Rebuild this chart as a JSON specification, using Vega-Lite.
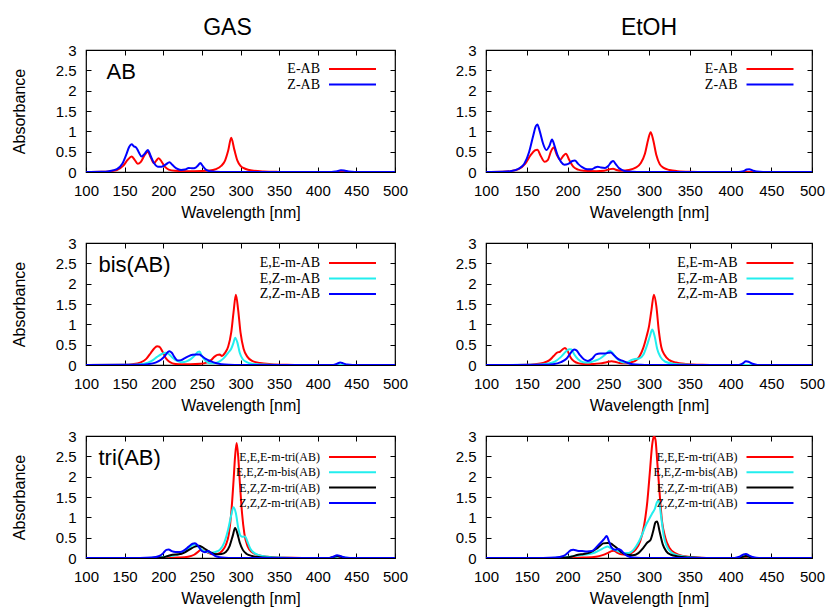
{
"$schema": "https://vega.github.io/schema/vega-lite/v6.json",
"background": "white",
"padding": {"left": 10, "top": 16, "right": 0, "bottom": 0},
"columns": 2,
"spacing": {"row": 71, "column": 91},
"bounds": "flush",
"align": "each",
"resolve": {"scale": {"color": "independent"}, "legend": {"color": "independent"}},
"datasets": {
"p1": [
{"series":"E-AB","nm":100,"abs":0},{"series":"E-AB","nm":120,"abs":0.005},{"series":"E-AB","nm":130,"abs":0.015},{"series":"E-AB","nm":140,"abs":0.05},{"series":"E-AB","nm":148,"abs":0.15},{"series":"E-AB","nm":154,"abs":0.3},{"series":"E-AB","nm":159,"abs":0.38},{"series":"E-AB","nm":163,"abs":0.3},{"series":"E-AB","nm":167,"abs":0.2},{"series":"E-AB","nm":171,"abs":0.25},{"series":"E-AB","nm":176,"abs":0.42},{"series":"E-AB","nm":180,"abs":0.5},{"series":"E-AB","nm":184,"abs":0.35},{"series":"E-AB","nm":188,"abs":0.22},{"series":"E-AB","nm":191,"abs":0.28},{"series":"E-AB","nm":194,"abs":0.34},{"series":"E-AB","nm":198,"abs":0.25},{"series":"E-AB","nm":202,"abs":0.13},{"series":"E-AB","nm":207,"abs":0.06},{"series":"E-AB","nm":215,"abs":0.03},{"series":"E-AB","nm":230,"abs":0.02},{"series":"E-AB","nm":250,"abs":0.025},{"series":"E-AB","nm":260,"abs":0.035},{"series":"E-AB","nm":268,"abs":0.07},{"series":"E-AB","nm":275,"abs":0.15},{"series":"E-AB","nm":280,"abs":0.28},{"series":"E-AB","nm":284,"abs":0.52},{"series":"E-AB","nm":288,"abs":0.84},{"series":"E-AB","nm":292,"abs":0.55},{"series":"E-AB","nm":296,"abs":0.28},{"series":"E-AB","nm":300,"abs":0.15},{"series":"E-AB","nm":306,"abs":0.08},{"series":"E-AB","nm":315,"abs":0.035},{"series":"E-AB","nm":330,"abs":0.012},{"series":"E-AB","nm":350,"abs":0.003},{"series":"E-AB","nm":370,"abs":0},{"series":"E-AB","nm":500,"abs":0},
{"series":"Z-AB","nm":100,"abs":0},{"series":"Z-AB","nm":120,"abs":0.005},{"series":"Z-AB","nm":130,"abs":0.02},{"series":"Z-AB","nm":140,"abs":0.07},{"series":"Z-AB","nm":147,"abs":0.2},{"series":"Z-AB","nm":152,"abs":0.42},{"series":"Z-AB","nm":156,"abs":0.62},{"series":"Z-AB","nm":159,"abs":0.68},{"series":"Z-AB","nm":162,"abs":0.63},{"series":"Z-AB","nm":165,"abs":0.6},{"series":"Z-AB","nm":168,"abs":0.5},{"series":"Z-AB","nm":172,"abs":0.38},{"series":"Z-AB","nm":176,"abs":0.45},{"series":"Z-AB","nm":180,"abs":0.54},{"series":"Z-AB","nm":184,"abs":0.38},{"series":"Z-AB","nm":188,"abs":0.22},{"series":"Z-AB","nm":193,"abs":0.13},{"series":"Z-AB","nm":198,"abs":0.13},{"series":"Z-AB","nm":203,"abs":0.18},{"series":"Z-AB","nm":208,"abs":0.24},{"series":"Z-AB","nm":212,"abs":0.17},{"series":"Z-AB","nm":217,"abs":0.09},{"series":"Z-AB","nm":223,"abs":0.05},{"series":"Z-AB","nm":228,"abs":0.06},{"series":"Z-AB","nm":233,"abs":0.1},{"series":"Z-AB","nm":238,"abs":0.09},{"series":"Z-AB","nm":242,"abs":0.11},{"series":"Z-AB","nm":245,"abs":0.16},{"series":"Z-AB","nm":248,"abs":0.22},{"series":"Z-AB","nm":251,"abs":0.15},{"series":"Z-AB","nm":255,"abs":0.06},{"series":"Z-AB","nm":260,"abs":0.02},{"series":"Z-AB","nm":268,"abs":0.005},{"series":"Z-AB","nm":280,"abs":0},{"series":"Z-AB","nm":418,"abs":0},{"series":"Z-AB","nm":424,"abs":0.015},{"series":"Z-AB","nm":430,"abs":0.04},{"series":"Z-AB","nm":434,"abs":0.035},{"series":"Z-AB","nm":440,"abs":0.01},{"series":"Z-AB","nm":448,"abs":0},{"series":"Z-AB","nm":500,"abs":0}
],
"p2": [
{"series":"E-AB","nm":100,"abs":0},{"series":"E-AB","nm":120,"abs":0.005},{"series":"E-AB","nm":130,"abs":0.02},{"series":"E-AB","nm":140,"abs":0.07},{"series":"E-AB","nm":148,"abs":0.2},{"series":"E-AB","nm":155,"abs":0.42},{"series":"E-AB","nm":160,"abs":0.53},{"series":"E-AB","nm":163,"abs":0.55},{"series":"E-AB","nm":167,"abs":0.4},{"series":"E-AB","nm":172,"abs":0.25},{"series":"E-AB","nm":176,"abs":0.3},{"series":"E-AB","nm":180,"abs":0.52},{"series":"E-AB","nm":183,"abs":0.6},{"series":"E-AB","nm":187,"abs":0.42},{"series":"E-AB","nm":191,"abs":0.3},{"series":"E-AB","nm":195,"abs":0.4},{"series":"E-AB","nm":198,"abs":0.45},{"series":"E-AB","nm":202,"abs":0.3},{"series":"E-AB","nm":207,"abs":0.13},{"series":"E-AB","nm":213,"abs":0.06},{"series":"E-AB","nm":220,"abs":0.03},{"series":"E-AB","nm":235,"abs":0.02},{"series":"E-AB","nm":245,"abs":0.03},{"series":"E-AB","nm":252,"abs":0.07},{"series":"E-AB","nm":256,"abs":0.08},{"series":"E-AB","nm":260,"abs":0.05},{"series":"E-AB","nm":267,"abs":0.03},{"series":"E-AB","nm":275,"abs":0.05},{"series":"E-AB","nm":283,"abs":0.1},{"series":"E-AB","nm":290,"abs":0.22},{"series":"E-AB","nm":295,"abs":0.45},{"series":"E-AB","nm":299,"abs":0.8},{"series":"E-AB","nm":302,"abs":0.98},{"series":"E-AB","nm":305,"abs":0.8},{"series":"E-AB","nm":309,"abs":0.42},{"series":"E-AB","nm":313,"abs":0.2},{"series":"E-AB","nm":318,"abs":0.1},{"series":"E-AB","nm":325,"abs":0.05},{"series":"E-AB","nm":335,"abs":0.02},{"series":"E-AB","nm":350,"abs":0.005},{"series":"E-AB","nm":370,"abs":0},{"series":"E-AB","nm":500,"abs":0},
{"series":"Z-AB","nm":100,"abs":0},{"series":"Z-AB","nm":120,"abs":0.005},{"series":"Z-AB","nm":130,"abs":0.02},{"series":"Z-AB","nm":140,"abs":0.08},{"series":"Z-AB","nm":147,"abs":0.2},{"series":"Z-AB","nm":153,"abs":0.5},{"series":"Z-AB","nm":158,"abs":0.9},{"series":"Z-AB","nm":161,"abs":1.12},{"series":"Z-AB","nm":163,"abs":1.17},{"series":"Z-AB","nm":166,"abs":1.0},{"series":"Z-AB","nm":170,"abs":0.7},{"series":"Z-AB","nm":174,"abs":0.54},{"series":"Z-AB","nm":178,"abs":0.65},{"series":"Z-AB","nm":181,"abs":0.8},{"series":"Z-AB","nm":184,"abs":0.65},{"series":"Z-AB","nm":188,"abs":0.4},{"series":"Z-AB","nm":192,"abs":0.25},{"series":"Z-AB","nm":196,"abs":0.18},{"series":"Z-AB","nm":201,"abs":0.2},{"series":"Z-AB","nm":206,"abs":0.27},{"series":"Z-AB","nm":209,"abs":0.28},{"series":"Z-AB","nm":213,"abs":0.2},{"series":"Z-AB","nm":218,"abs":0.12},{"series":"Z-AB","nm":224,"abs":0.07},{"series":"Z-AB","nm":230,"abs":0.07},{"series":"Z-AB","nm":234,"abs":0.11},{"series":"Z-AB","nm":237,"abs":0.13},{"series":"Z-AB","nm":241,"abs":0.11},{"series":"Z-AB","nm":246,"abs":0.1},{"series":"Z-AB","nm":250,"abs":0.15},{"series":"Z-AB","nm":254,"abs":0.25},{"series":"Z-AB","nm":256,"abs":0.27},{"series":"Z-AB","nm":259,"abs":0.2},{"series":"Z-AB","nm":263,"abs":0.1},{"series":"Z-AB","nm":268,"abs":0.04},{"series":"Z-AB","nm":275,"abs":0.01},{"series":"Z-AB","nm":285,"abs":0},{"series":"Z-AB","nm":410,"abs":0},{"series":"Z-AB","nm":416,"abs":0.02},{"series":"Z-AB","nm":420,"abs":0.06},{"series":"Z-AB","nm":423,"abs":0.07},{"series":"Z-AB","nm":427,"abs":0.04},{"series":"Z-AB","nm":432,"abs":0.01},{"series":"Z-AB","nm":440,"abs":0},{"series":"Z-AB","nm":500,"abs":0}
],
"p3": [
{"series":"E,E-m-AB","nm":100,"abs":0},{"series":"E,E-m-AB","nm":150,"abs":0.005},{"series":"E,E-m-AB","nm":160,"abs":0.02},{"series":"E,E-m-AB","nm":170,"abs":0.06},{"series":"E,E-m-AB","nm":178,"abs":0.15},{"series":"E,E-m-AB","nm":184,"abs":0.3},{"series":"E,E-m-AB","nm":188,"abs":0.4},{"series":"E,E-m-AB","nm":192,"abs":0.46},{"series":"E,E-m-AB","nm":195,"abs":0.45},{"series":"E,E-m-AB","nm":199,"abs":0.33},{"series":"E,E-m-AB","nm":203,"abs":0.18},{"series":"E,E-m-AB","nm":207,"abs":0.09},{"series":"E,E-m-AB","nm":212,"abs":0.04},{"series":"E,E-m-AB","nm":220,"abs":0.02},{"series":"E,E-m-AB","nm":235,"abs":0.02},{"series":"E,E-m-AB","nm":248,"abs":0.03},{"series":"E,E-m-AB","nm":256,"abs":0.06},{"series":"E,E-m-AB","nm":262,"abs":0.12},{"series":"E,E-m-AB","nm":266,"abs":0.2},{"series":"E,E-m-AB","nm":270,"abs":0.25},{"series":"E,E-m-AB","nm":273,"abs":0.26},{"series":"E,E-m-AB","nm":276,"abs":0.22},{"series":"E,E-m-AB","nm":280,"abs":0.3},{"series":"E,E-m-AB","nm":284,"abs":0.45},{"series":"E,E-m-AB","nm":288,"abs":0.8},{"series":"E,E-m-AB","nm":291,"abs":1.3},{"series":"E,E-m-AB","nm":294,"abs":1.73},{"series":"E,E-m-AB","nm":297,"abs":1.35},{"series":"E,E-m-AB","nm":300,"abs":0.8},{"series":"E,E-m-AB","nm":304,"abs":0.4},{"series":"E,E-m-AB","nm":309,"abs":0.2},{"series":"E,E-m-AB","nm":315,"abs":0.1},{"series":"E,E-m-AB","nm":325,"abs":0.05},{"series":"E,E-m-AB","nm":340,"abs":0.02},{"series":"E,E-m-AB","nm":360,"abs":0.005},{"series":"E,E-m-AB","nm":380,"abs":0},{"series":"E,E-m-AB","nm":500,"abs":0},
{"series":"E,Z-m-AB","nm":100,"abs":0},{"series":"E,Z-m-AB","nm":160,"abs":0.005},{"series":"E,Z-m-AB","nm":175,"abs":0.03},{"series":"E,Z-m-AB","nm":185,"abs":0.1},{"series":"E,Z-m-AB","nm":192,"abs":0.2},{"series":"E,Z-m-AB","nm":198,"abs":0.27},{"series":"E,Z-m-AB","nm":203,"abs":0.3},{"series":"E,Z-m-AB","nm":207,"abs":0.27},{"series":"E,Z-m-AB","nm":212,"abs":0.18},{"series":"E,Z-m-AB","nm":218,"abs":0.1},{"series":"E,Z-m-AB","nm":224,"abs":0.07},{"series":"E,Z-m-AB","nm":230,"abs":0.09},{"series":"E,Z-m-AB","nm":236,"abs":0.15},{"series":"E,Z-m-AB","nm":241,"abs":0.24},{"series":"E,Z-m-AB","nm":245,"abs":0.32},{"series":"E,Z-m-AB","nm":247,"abs":0.33},{"series":"E,Z-m-AB","nm":250,"abs":0.22},{"series":"E,Z-m-AB","nm":255,"abs":0.1},{"series":"E,Z-m-AB","nm":262,"abs":0.04},{"series":"E,Z-m-AB","nm":268,"abs":0.05},{"series":"E,Z-m-AB","nm":274,"abs":0.1},{"series":"E,Z-m-AB","nm":279,"abs":0.18},{"series":"E,Z-m-AB","nm":284,"abs":0.3},{"series":"E,Z-m-AB","nm":288,"abs":0.4},{"series":"E,Z-m-AB","nm":291,"abs":0.55},{"series":"E,Z-m-AB","nm":293,"abs":0.67},{"series":"E,Z-m-AB","nm":296,"abs":0.55},{"series":"E,Z-m-AB","nm":299,"abs":0.3},{"series":"E,Z-m-AB","nm":303,"abs":0.14},{"series":"E,Z-m-AB","nm":308,"abs":0.07},{"series":"E,Z-m-AB","nm":315,"abs":0.03},{"series":"E,Z-m-AB","nm":330,"abs":0.01},{"series":"E,Z-m-AB","nm":350,"abs":0},{"series":"E,Z-m-AB","nm":500,"abs":0},
{"series":"Z,Z-m-AB","nm":100,"abs":0},{"series":"Z,Z-m-AB","nm":170,"abs":0.005},{"series":"Z,Z-m-AB","nm":180,"abs":0.02},{"series":"Z,Z-m-AB","nm":190,"abs":0.06},{"series":"Z,Z-m-AB","nm":197,"abs":0.13},{"series":"Z,Z-m-AB","nm":202,"abs":0.22},{"series":"Z,Z-m-AB","nm":206,"abs":0.32},{"series":"Z,Z-m-AB","nm":208,"abs":0.34},{"series":"Z,Z-m-AB","nm":211,"abs":0.3},{"series":"Z,Z-m-AB","nm":215,"abs":0.18},{"series":"Z,Z-m-AB","nm":219,"abs":0.11},{"series":"Z,Z-m-AB","nm":223,"abs":0.12},{"series":"Z,Z-m-AB","nm":228,"abs":0.17},{"series":"Z,Z-m-AB","nm":233,"abs":0.22},{"series":"Z,Z-m-AB","nm":238,"abs":0.25},{"series":"Z,Z-m-AB","nm":243,"abs":0.26},{"series":"Z,Z-m-AB","nm":247,"abs":0.26},{"series":"Z,Z-m-AB","nm":250,"abs":0.22},{"series":"Z,Z-m-AB","nm":255,"abs":0.15},{"series":"Z,Z-m-AB","nm":262,"abs":0.09},{"series":"Z,Z-m-AB","nm":268,"abs":0.05},{"series":"Z,Z-m-AB","nm":275,"abs":0.02},{"series":"Z,Z-m-AB","nm":285,"abs":0.005},{"series":"Z,Z-m-AB","nm":300,"abs":0},{"series":"Z,Z-m-AB","nm":420,"abs":0},{"series":"Z,Z-m-AB","nm":425,"abs":0.03},{"series":"Z,Z-m-AB","nm":429,"abs":0.06},{"series":"Z,Z-m-AB","nm":433,"abs":0.04},{"series":"Z,Z-m-AB","nm":438,"abs":0.01},{"series":"Z,Z-m-AB","nm":445,"abs":0},{"series":"Z,Z-m-AB","nm":500,"abs":0}
],
"p4": [
{"series":"E,E-m-AB","nm":100,"abs":0},{"series":"E,E-m-AB","nm":150,"abs":0.005},{"series":"E,E-m-AB","nm":160,"abs":0.02},{"series":"E,E-m-AB","nm":170,"abs":0.05},{"series":"E,E-m-AB","nm":178,"abs":0.12},{"series":"E,E-m-AB","nm":183,"abs":0.22},{"series":"E,E-m-AB","nm":187,"abs":0.3},{"series":"E,E-m-AB","nm":191,"abs":0.33},{"series":"E,E-m-AB","nm":195,"abs":0.4},{"series":"E,E-m-AB","nm":197,"abs":0.42},{"series":"E,E-m-AB","nm":200,"abs":0.35},{"series":"E,E-m-AB","nm":204,"abs":0.18},{"series":"E,E-m-AB","nm":208,"abs":0.09},{"series":"E,E-m-AB","nm":214,"abs":0.04},{"series":"E,E-m-AB","nm":225,"abs":0.02},{"series":"E,E-m-AB","nm":240,"abs":0.04},{"series":"E,E-m-AB","nm":248,"abs":0.07},{"series":"E,E-m-AB","nm":254,"abs":0.09},{"series":"E,E-m-AB","nm":258,"abs":0.08},{"series":"E,E-m-AB","nm":264,"abs":0.05},{"series":"E,E-m-AB","nm":270,"abs":0.04},{"series":"E,E-m-AB","nm":277,"abs":0.06},{"series":"E,E-m-AB","nm":283,"abs":0.1},{"series":"E,E-m-AB","nm":288,"abs":0.2},{"series":"E,E-m-AB","nm":293,"abs":0.42},{"series":"E,E-m-AB","nm":297,"abs":0.7},{"series":"E,E-m-AB","nm":300,"abs":0.95},{"series":"E,E-m-AB","nm":303,"abs":1.35},{"series":"E,E-m-AB","nm":306,"abs":1.73},{"series":"E,E-m-AB","nm":309,"abs":1.45},{"series":"E,E-m-AB","nm":312,"abs":0.85},{"series":"E,E-m-AB","nm":315,"abs":0.45},{"series":"E,E-m-AB","nm":319,"abs":0.25},{"series":"E,E-m-AB","nm":325,"abs":0.12},{"series":"E,E-m-AB","nm":333,"abs":0.06},{"series":"E,E-m-AB","nm":345,"abs":0.025},{"series":"E,E-m-AB","nm":365,"abs":0.005},{"series":"E,E-m-AB","nm":385,"abs":0},{"series":"E,E-m-AB","nm":500,"abs":0},
{"series":"E,Z-m-AB","nm":100,"abs":0},{"series":"E,Z-m-AB","nm":160,"abs":0.005},{"series":"E,Z-m-AB","nm":175,"abs":0.03},{"series":"E,Z-m-AB","nm":185,"abs":0.09},{"series":"E,Z-m-AB","nm":192,"abs":0.2},{"series":"E,Z-m-AB","nm":198,"abs":0.33},{"series":"E,Z-m-AB","nm":202,"abs":0.39},{"series":"E,Z-m-AB","nm":205,"abs":0.38},{"series":"E,Z-m-AB","nm":208,"abs":0.27},{"series":"E,Z-m-AB","nm":213,"abs":0.14},{"series":"E,Z-m-AB","nm":219,"abs":0.07},{"series":"E,Z-m-AB","nm":226,"abs":0.06},{"series":"E,Z-m-AB","nm":233,"abs":0.1},{"series":"E,Z-m-AB","nm":240,"abs":0.16},{"series":"E,Z-m-AB","nm":246,"abs":0.25},{"series":"E,Z-m-AB","nm":250,"abs":0.33},{"series":"E,Z-m-AB","nm":252,"abs":0.35},{"series":"E,Z-m-AB","nm":255,"abs":0.3},{"series":"E,Z-m-AB","nm":260,"abs":0.17},{"series":"E,Z-m-AB","nm":266,"abs":0.08},{"series":"E,Z-m-AB","nm":272,"abs":0.06},{"series":"E,Z-m-AB","nm":278,"abs":0.12},{"series":"E,Z-m-AB","nm":283,"abs":0.15},{"series":"E,Z-m-AB","nm":288,"abs":0.16},{"series":"E,Z-m-AB","nm":293,"abs":0.25},{"series":"E,Z-m-AB","nm":297,"abs":0.45},{"series":"E,Z-m-AB","nm":301,"abs":0.7},{"series":"E,Z-m-AB","nm":304,"abs":0.87},{"series":"E,Z-m-AB","nm":307,"abs":0.7},{"series":"E,Z-m-AB","nm":310,"abs":0.4},{"series":"E,Z-m-AB","nm":314,"abs":0.2},{"series":"E,Z-m-AB","nm":320,"abs":0.08},{"series":"E,Z-m-AB","nm":330,"abs":0.03},{"series":"E,Z-m-AB","nm":345,"abs":0.01},{"series":"E,Z-m-AB","nm":360,"abs":0},{"series":"E,Z-m-AB","nm":500,"abs":0},
{"series":"Z,Z-m-AB","nm":100,"abs":0},{"series":"Z,Z-m-AB","nm":170,"abs":0.005},{"series":"Z,Z-m-AB","nm":182,"abs":0.02},{"series":"Z,Z-m-AB","nm":192,"abs":0.07},{"series":"Z,Z-m-AB","nm":199,"abs":0.16},{"series":"Z,Z-m-AB","nm":204,"abs":0.3},{"series":"Z,Z-m-AB","nm":208,"abs":0.38},{"series":"Z,Z-m-AB","nm":211,"abs":0.36},{"series":"Z,Z-m-AB","nm":215,"abs":0.25},{"series":"Z,Z-m-AB","nm":220,"abs":0.14},{"series":"Z,Z-m-AB","nm":225,"abs":0.1},{"series":"Z,Z-m-AB","nm":230,"abs":0.15},{"series":"Z,Z-m-AB","nm":235,"abs":0.26},{"series":"Z,Z-m-AB","nm":240,"abs":0.28},{"series":"Z,Z-m-AB","nm":246,"abs":0.28},{"series":"Z,Z-m-AB","nm":250,"abs":0.3},{"series":"Z,Z-m-AB","nm":253,"abs":0.31},{"series":"Z,Z-m-AB","nm":257,"abs":0.24},{"series":"Z,Z-m-AB","nm":262,"abs":0.15},{"series":"Z,Z-m-AB","nm":268,"abs":0.1},{"series":"Z,Z-m-AB","nm":274,"abs":0.05},{"series":"Z,Z-m-AB","nm":280,"abs":0.02},{"series":"Z,Z-m-AB","nm":290,"abs":0.005},{"series":"Z,Z-m-AB","nm":300,"abs":0},{"series":"Z,Z-m-AB","nm":410,"abs":0},{"series":"Z,Z-m-AB","nm":415,"abs":0.04},{"series":"Z,Z-m-AB","nm":419,"abs":0.09},{"series":"Z,Z-m-AB","nm":422,"abs":0.08},{"series":"Z,Z-m-AB","nm":427,"abs":0.03},{"series":"Z,Z-m-AB","nm":433,"abs":0},{"series":"Z,Z-m-AB","nm":500,"abs":0}
],
"p5": [
{"series":"E,E,E-m-tri(AB)","nm":100,"abs":0},{"series":"E,E,E-m-tri(AB)","nm":200,"abs":0},{"series":"E,E,E-m-tri(AB)","nm":220,"abs":0.01},{"series":"E,E,E-m-tri(AB)","nm":232,"abs":0.03},{"series":"E,E,E-m-tri(AB)","nm":240,"abs":0.08},{"series":"E,E,E-m-tri(AB)","nm":245,"abs":0.15},{"series":"E,E,E-m-tri(AB)","nm":249,"abs":0.2},{"series":"E,E,E-m-tri(AB)","nm":253,"abs":0.18},{"series":"E,E,E-m-tri(AB)","nm":258,"abs":0.13},{"series":"E,E,E-m-tri(AB)","nm":264,"abs":0.09},{"series":"E,E,E-m-tri(AB)","nm":270,"abs":0.1},{"series":"E,E,E-m-tri(AB)","nm":276,"abs":0.17},{"series":"E,E,E-m-tri(AB)","nm":281,"abs":0.32},{"series":"E,E,E-m-tri(AB)","nm":285,"abs":0.6},{"series":"E,E,E-m-tri(AB)","nm":288,"abs":1.1},{"series":"E,E,E-m-tri(AB)","nm":291,"abs":1.9},{"series":"E,E,E-m-tri(AB)","nm":293,"abs":2.5},{"series":"E,E,E-m-tri(AB)","nm":295,"abs":2.83},{"series":"E,E,E-m-tri(AB)","nm":297,"abs":2.5},{"series":"E,E,E-m-tri(AB)","nm":299,"abs":1.9},{"series":"E,E,E-m-tri(AB)","nm":302,"abs":1.1},{"series":"E,E,E-m-tri(AB)","nm":305,"abs":0.6},{"series":"E,E,E-m-tri(AB)","nm":309,"abs":0.3},{"series":"E,E,E-m-tri(AB)","nm":315,"abs":0.14},{"series":"E,E,E-m-tri(AB)","nm":323,"abs":0.07},{"series":"E,E,E-m-tri(AB)","nm":335,"abs":0.03},{"series":"E,E,E-m-tri(AB)","nm":355,"abs":0.01},{"series":"E,E,E-m-tri(AB)","nm":380,"abs":0},{"series":"E,E,E-m-tri(AB)","nm":500,"abs":0},
{"series":"E,E,Z-m-bis(AB)","nm":100,"abs":0},{"series":"E,E,Z-m-bis(AB)","nm":180,"abs":0},{"series":"E,E,Z-m-bis(AB)","nm":195,"abs":0.01},{"series":"E,E,Z-m-bis(AB)","nm":205,"abs":0.04},{"series":"E,E,Z-m-bis(AB)","nm":215,"abs":0.07},{"series":"E,E,Z-m-bis(AB)","nm":222,"abs":0.1},{"series":"E,E,Z-m-bis(AB)","nm":228,"abs":0.17},{"series":"E,E,Z-m-bis(AB)","nm":234,"abs":0.26},{"series":"E,E,Z-m-bis(AB)","nm":238,"abs":0.32},{"series":"E,E,Z-m-bis(AB)","nm":241,"abs":0.33},{"series":"E,E,Z-m-bis(AB)","nm":245,"abs":0.28},{"series":"E,E,Z-m-bis(AB)","nm":250,"abs":0.2},{"series":"E,E,Z-m-bis(AB)","nm":256,"abs":0.15},{"series":"E,E,Z-m-bis(AB)","nm":262,"abs":0.13},{"series":"E,E,Z-m-bis(AB)","nm":268,"abs":0.15},{"series":"E,E,Z-m-bis(AB)","nm":274,"abs":0.22},{"series":"E,E,Z-m-bis(AB)","nm":279,"abs":0.38},{"series":"E,E,Z-m-bis(AB)","nm":284,"abs":0.7},{"series":"E,E,Z-m-bis(AB)","nm":288,"abs":1.05},{"series":"E,E,Z-m-bis(AB)","nm":291,"abs":1.25},{"series":"E,E,Z-m-bis(AB)","nm":294,"abs":1.1},{"series":"E,E,Z-m-bis(AB)","nm":297,"abs":0.75},{"series":"E,E,Z-m-bis(AB)","nm":300,"abs":0.55},{"series":"E,E,Z-m-bis(AB)","nm":303,"abs":0.52},{"series":"E,E,Z-m-bis(AB)","nm":306,"abs":0.53},{"series":"E,E,Z-m-bis(AB)","nm":309,"abs":0.4},{"series":"E,E,Z-m-bis(AB)","nm":313,"abs":0.22},{"series":"E,E,Z-m-bis(AB)","nm":318,"abs":0.12},{"series":"E,E,Z-m-bis(AB)","nm":325,"abs":0.06},{"series":"E,E,Z-m-bis(AB)","nm":335,"abs":0.03},{"series":"E,E,Z-m-bis(AB)","nm":350,"abs":0.01},{"series":"E,E,Z-m-bis(AB)","nm":370,"abs":0},{"series":"E,E,Z-m-bis(AB)","nm":420,"abs":0},{"series":"E,E,Z-m-bis(AB)","nm":425,"abs":0.03},{"series":"E,E,Z-m-bis(AB)","nm":428,"abs":0.04},{"series":"E,E,Z-m-bis(AB)","nm":432,"abs":0.02},{"series":"E,E,Z-m-bis(AB)","nm":440,"abs":0},{"series":"E,E,Z-m-bis(AB)","nm":500,"abs":0},
{"series":"E,Z,Z-m-tri(AB)","nm":100,"abs":0},{"series":"E,Z,Z-m-tri(AB)","nm":185,"abs":0},{"series":"E,Z,Z-m-tri(AB)","nm":198,"abs":0.01},{"series":"E,Z,Z-m-tri(AB)","nm":206,"abs":0.05},{"series":"E,Z,Z-m-tri(AB)","nm":212,"abs":0.08},{"series":"E,Z,Z-m-tri(AB)","nm":220,"abs":0.09},{"series":"E,Z,Z-m-tri(AB)","nm":228,"abs":0.14},{"series":"E,Z,Z-m-tri(AB)","nm":235,"abs":0.22},{"series":"E,Z,Z-m-tri(AB)","nm":241,"abs":0.28},{"series":"E,Z,Z-m-tri(AB)","nm":246,"abs":0.3},{"series":"E,Z,Z-m-tri(AB)","nm":251,"abs":0.26},{"series":"E,Z,Z-m-tri(AB)","nm":256,"abs":0.2},{"series":"E,Z,Z-m-tri(AB)","nm":262,"abs":0.13},{"series":"E,Z,Z-m-tri(AB)","nm":268,"abs":0.09},{"series":"E,Z,Z-m-tri(AB)","nm":275,"abs":0.1},{"series":"E,Z,Z-m-tri(AB)","nm":281,"abs":0.15},{"series":"E,Z,Z-m-tri(AB)","nm":286,"abs":0.3},{"series":"E,Z,Z-m-tri(AB)","nm":290,"abs":0.55},{"series":"E,Z,Z-m-tri(AB)","nm":293,"abs":0.74},{"series":"E,Z,Z-m-tri(AB)","nm":296,"abs":0.6},{"series":"E,Z,Z-m-tri(AB)","nm":299,"abs":0.38},{"series":"E,Z,Z-m-tri(AB)","nm":303,"abs":0.2},{"series":"E,Z,Z-m-tri(AB)","nm":308,"abs":0.1},{"series":"E,Z,Z-m-tri(AB)","nm":315,"abs":0.05},{"series":"E,Z,Z-m-tri(AB)","nm":325,"abs":0.02},{"series":"E,Z,Z-m-tri(AB)","nm":340,"abs":0.005},{"series":"E,Z,Z-m-tri(AB)","nm":360,"abs":0},{"series":"E,Z,Z-m-tri(AB)","nm":415,"abs":0},{"series":"E,Z,Z-m-tri(AB)","nm":421,"abs":0.03},{"series":"E,Z,Z-m-tri(AB)","nm":426,"abs":0.05},{"series":"E,Z,Z-m-tri(AB)","nm":430,"abs":0.03},{"series":"E,Z,Z-m-tri(AB)","nm":436,"abs":0},{"series":"E,Z,Z-m-tri(AB)","nm":500,"abs":0},
{"series":"Z,Z,Z-m-tri(AB)","nm":100,"abs":0},{"series":"Z,Z,Z-m-tri(AB)","nm":170,"abs":0},{"series":"Z,Z,Z-m-tri(AB)","nm":185,"abs":0.01},{"series":"Z,Z,Z-m-tri(AB)","nm":195,"abs":0.05},{"series":"Z,Z,Z-m-tri(AB)","nm":200,"abs":0.12},{"series":"Z,Z,Z-m-tri(AB)","nm":204,"abs":0.2},{"series":"Z,Z,Z-m-tri(AB)","nm":207,"abs":0.21},{"series":"Z,Z,Z-m-tri(AB)","nm":211,"abs":0.17},{"series":"Z,Z,Z-m-tri(AB)","nm":216,"abs":0.15},{"series":"Z,Z,Z-m-tri(AB)","nm":222,"abs":0.15},{"series":"Z,Z,Z-m-tri(AB)","nm":228,"abs":0.2},{"series":"Z,Z,Z-m-tri(AB)","nm":233,"abs":0.28},{"series":"Z,Z,Z-m-tri(AB)","nm":238,"abs":0.35},{"series":"Z,Z,Z-m-tri(AB)","nm":241,"abs":0.36},{"series":"Z,Z,Z-m-tri(AB)","nm":245,"abs":0.3},{"series":"Z,Z,Z-m-tri(AB)","nm":250,"abs":0.17},{"series":"Z,Z,Z-m-tri(AB)","nm":254,"abs":0.14},{"series":"Z,Z,Z-m-tri(AB)","nm":258,"abs":0.17},{"series":"Z,Z,Z-m-tri(AB)","nm":262,"abs":0.12},{"series":"Z,Z,Z-m-tri(AB)","nm":267,"abs":0.05},{"series":"Z,Z,Z-m-tri(AB)","nm":273,"abs":0.02},{"series":"Z,Z,Z-m-tri(AB)","nm":280,"abs":0.005},{"series":"Z,Z,Z-m-tri(AB)","nm":290,"abs":0},{"series":"Z,Z,Z-m-tri(AB)","nm":415,"abs":0},{"series":"Z,Z,Z-m-tri(AB)","nm":420,"abs":0.03},{"series":"Z,Z,Z-m-tri(AB)","nm":425,"abs":0.07},{"series":"Z,Z,Z-m-tri(AB)","nm":429,"abs":0.05},{"series":"Z,Z,Z-m-tri(AB)","nm":435,"abs":0.01},{"series":"Z,Z,Z-m-tri(AB)","nm":442,"abs":0},{"series":"Z,Z,Z-m-tri(AB)","nm":500,"abs":0}
],
"p6": [
{"series":"E,E,E-m-tri(AB)","nm":100,"abs":0},{"series":"E,E,E-m-tri(AB)","nm":200,"abs":0},{"series":"E,E,E-m-tri(AB)","nm":220,"abs":0.01},{"series":"E,E,E-m-tri(AB)","nm":235,"abs":0.03},{"series":"E,E,E-m-tri(AB)","nm":243,"abs":0.07},{"series":"E,E,E-m-tri(AB)","nm":249,"abs":0.12},{"series":"E,E,E-m-tri(AB)","nm":254,"abs":0.17},{"series":"E,E,E-m-tri(AB)","nm":257,"abs":0.18},{"series":"E,E,E-m-tri(AB)","nm":261,"abs":0.13},{"series":"E,E,E-m-tri(AB)","nm":266,"abs":0.09},{"series":"E,E,E-m-tri(AB)","nm":272,"abs":0.08},{"series":"E,E,E-m-tri(AB)","nm":278,"abs":0.12},{"series":"E,E,E-m-tri(AB)","nm":284,"abs":0.22},{"series":"E,E,E-m-tri(AB)","nm":289,"abs":0.4},{"series":"E,E,E-m-tri(AB)","nm":294,"abs":0.8},{"series":"E,E,E-m-tri(AB)","nm":298,"abs":1.4},{"series":"E,E,E-m-tri(AB)","nm":301,"abs":2.1},{"series":"E,E,E-m-tri(AB)","nm":304,"abs":2.8},{"series":"E,E,E-m-tri(AB)","nm":306,"abs":3.0},{"series":"E,E,E-m-tri(AB)","nm":308,"abs":2.9},{"series":"E,E,E-m-tri(AB)","nm":310,"abs":2.4},{"series":"E,E,E-m-tri(AB)","nm":313,"abs":1.6},{"series":"E,E,E-m-tri(AB)","nm":316,"abs":0.9},{"series":"E,E,E-m-tri(AB)","nm":320,"abs":0.5},{"series":"E,E,E-m-tri(AB)","nm":325,"abs":0.25},{"series":"E,E,E-m-tri(AB)","nm":332,"abs":0.12},{"series":"E,E,E-m-tri(AB)","nm":342,"abs":0.05},{"series":"E,E,E-m-tri(AB)","nm":360,"abs":0.015},{"series":"E,E,E-m-tri(AB)","nm":380,"abs":0},{"series":"E,E,E-m-tri(AB)","nm":500,"abs":0},
{"series":"E,E,Z-m-bis(AB)","nm":100,"abs":0},{"series":"E,E,Z-m-bis(AB)","nm":180,"abs":0},{"series":"E,E,Z-m-bis(AB)","nm":195,"abs":0.01},{"series":"E,E,Z-m-bis(AB)","nm":205,"abs":0.04},{"series":"E,E,Z-m-bis(AB)","nm":215,"abs":0.07},{"series":"E,E,Z-m-bis(AB)","nm":225,"abs":0.09},{"series":"E,E,Z-m-bis(AB)","nm":233,"abs":0.13},{"series":"E,E,Z-m-bis(AB)","nm":240,"abs":0.2},{"series":"E,E,Z-m-bis(AB)","nm":246,"abs":0.26},{"series":"E,E,Z-m-bis(AB)","nm":249,"abs":0.28},{"series":"E,E,Z-m-bis(AB)","nm":253,"abs":0.24},{"series":"E,E,Z-m-bis(AB)","nm":258,"abs":0.2},{"series":"E,E,Z-m-bis(AB)","nm":263,"abs":0.16},{"series":"E,E,Z-m-bis(AB)","nm":269,"abs":0.12},{"series":"E,E,Z-m-bis(AB)","nm":275,"abs":0.12},{"series":"E,E,Z-m-bis(AB)","nm":281,"abs":0.2},{"series":"E,E,Z-m-bis(AB)","nm":287,"abs":0.38},{"series":"E,E,Z-m-bis(AB)","nm":292,"abs":0.6},{"series":"E,E,Z-m-bis(AB)","nm":296,"abs":0.8},{"series":"E,E,Z-m-bis(AB)","nm":300,"abs":0.95},{"series":"E,E,Z-m-bis(AB)","nm":304,"abs":1.1},{"series":"E,E,Z-m-bis(AB)","nm":307,"abs":1.2},{"series":"E,E,Z-m-bis(AB)","nm":310,"abs":1.38},{"series":"E,E,Z-m-bis(AB)","nm":312,"abs":1.41},{"series":"E,E,Z-m-bis(AB)","nm":315,"abs":1.0},{"series":"E,E,Z-m-bis(AB)","nm":318,"abs":0.55},{"series":"E,E,Z-m-bis(AB)","nm":322,"abs":0.28},{"series":"E,E,Z-m-bis(AB)","nm":328,"abs":0.13},{"series":"E,E,Z-m-bis(AB)","nm":336,"abs":0.06},{"series":"E,E,Z-m-bis(AB)","nm":350,"abs":0.02},{"series":"E,E,Z-m-bis(AB)","nm":370,"abs":0},{"series":"E,E,Z-m-bis(AB)","nm":410,"abs":0},{"series":"E,E,Z-m-bis(AB)","nm":415,"abs":0.03},{"series":"E,E,Z-m-bis(AB)","nm":419,"abs":0.05},{"series":"E,E,Z-m-bis(AB)","nm":423,"abs":0.02},{"series":"E,E,Z-m-bis(AB)","nm":430,"abs":0},{"series":"E,E,Z-m-bis(AB)","nm":500,"abs":0},
{"series":"E,Z,Z-m-tri(AB)","nm":100,"abs":0},{"series":"E,Z,Z-m-tri(AB)","nm":185,"abs":0},{"series":"E,Z,Z-m-tri(AB)","nm":198,"abs":0.01},{"series":"E,Z,Z-m-tri(AB)","nm":206,"abs":0.04},{"series":"E,Z,Z-m-tri(AB)","nm":213,"abs":0.08},{"series":"E,Z,Z-m-tri(AB)","nm":220,"abs":0.1},{"series":"E,Z,Z-m-tri(AB)","nm":228,"abs":0.14},{"series":"E,Z,Z-m-tri(AB)","nm":235,"abs":0.22},{"series":"E,Z,Z-m-tri(AB)","nm":240,"abs":0.3},{"series":"E,Z,Z-m-tri(AB)","nm":244,"abs":0.36},{"series":"E,Z,Z-m-tri(AB)","nm":249,"abs":0.37},{"series":"E,Z,Z-m-tri(AB)","nm":253,"abs":0.36},{"series":"E,Z,Z-m-tri(AB)","nm":257,"abs":0.3},{"series":"E,Z,Z-m-tri(AB)","nm":262,"abs":0.22},{"series":"E,Z,Z-m-tri(AB)","nm":267,"abs":0.13},{"series":"E,Z,Z-m-tri(AB)","nm":273,"abs":0.08},{"series":"E,Z,Z-m-tri(AB)","nm":280,"abs":0.07},{"series":"E,Z,Z-m-tri(AB)","nm":287,"abs":0.12},{"series":"E,Z,Z-m-tri(AB)","nm":293,"abs":0.25},{"series":"E,Z,Z-m-tri(AB)","nm":298,"abs":0.38},{"series":"E,Z,Z-m-tri(AB)","nm":302,"abs":0.45},{"series":"E,Z,Z-m-tri(AB)","nm":305,"abs":0.65},{"series":"E,Z,Z-m-tri(AB)","nm":308,"abs":0.88},{"series":"E,Z,Z-m-tri(AB)","nm":310,"abs":0.9},{"series":"E,Z,Z-m-tri(AB)","nm":313,"abs":0.65},{"series":"E,Z,Z-m-tri(AB)","nm":317,"abs":0.33},{"series":"E,Z,Z-m-tri(AB)","nm":321,"abs":0.17},{"series":"E,Z,Z-m-tri(AB)","nm":327,"abs":0.08},{"series":"E,Z,Z-m-tri(AB)","nm":335,"abs":0.04},{"series":"E,Z,Z-m-tri(AB)","nm":350,"abs":0.01},{"series":"E,Z,Z-m-tri(AB)","nm":365,"abs":0},{"series":"E,Z,Z-m-tri(AB)","nm":410,"abs":0},{"series":"E,Z,Z-m-tri(AB)","nm":415,"abs":0.03},{"series":"E,Z,Z-m-tri(AB)","nm":419,"abs":0.05},{"series":"E,Z,Z-m-tri(AB)","nm":424,"abs":0.02},{"series":"E,Z,Z-m-tri(AB)","nm":430,"abs":0},{"series":"E,Z,Z-m-tri(AB)","nm":500,"abs":0},
{"series":"Z,Z,Z-m-tri(AB)","nm":100,"abs":0},{"series":"Z,Z,Z-m-tri(AB)","nm":170,"abs":0},{"series":"Z,Z,Z-m-tri(AB)","nm":185,"abs":0.01},{"series":"Z,Z,Z-m-tri(AB)","nm":195,"abs":0.05},{"series":"Z,Z,Z-m-tri(AB)","nm":200,"abs":0.12},{"series":"Z,Z,Z-m-tri(AB)","nm":204,"abs":0.19},{"series":"Z,Z,Z-m-tri(AB)","nm":207,"abs":0.2},{"series":"Z,Z,Z-m-tri(AB)","nm":212,"abs":0.18},{"series":"Z,Z,Z-m-tri(AB)","nm":218,"abs":0.17},{"series":"Z,Z,Z-m-tri(AB)","nm":224,"abs":0.16},{"series":"Z,Z,Z-m-tri(AB)","nm":230,"abs":0.17},{"series":"Z,Z,Z-m-tri(AB)","nm":236,"abs":0.28},{"series":"Z,Z,Z-m-tri(AB)","nm":241,"abs":0.38},{"series":"Z,Z,Z-m-tri(AB)","nm":245,"abs":0.47},{"series":"Z,Z,Z-m-tri(AB)","nm":248,"abs":0.54},{"series":"Z,Z,Z-m-tri(AB)","nm":251,"abs":0.4},{"series":"Z,Z,Z-m-tri(AB)","nm":254,"abs":0.26},{"series":"Z,Z,Z-m-tri(AB)","nm":258,"abs":0.2},{"series":"Z,Z,Z-m-tri(AB)","nm":262,"abs":0.22},{"series":"Z,Z,Z-m-tri(AB)","nm":265,"abs":0.2},{"series":"Z,Z,Z-m-tri(AB)","nm":270,"abs":0.1},{"series":"Z,Z,Z-m-tri(AB)","nm":276,"abs":0.03},{"series":"Z,Z,Z-m-tri(AB)","nm":285,"abs":0.005},{"series":"Z,Z,Z-m-tri(AB)","nm":295,"abs":0},{"series":"Z,Z,Z-m-tri(AB)","nm":405,"abs":0},{"series":"Z,Z,Z-m-tri(AB)","nm":411,"abs":0.03},{"series":"Z,Z,Z-m-tri(AB)","nm":416,"abs":0.09},{"series":"Z,Z,Z-m-tri(AB)","nm":419,"abs":0.1},{"series":"Z,Z,Z-m-tri(AB)","nm":423,"abs":0.06},{"series":"Z,Z,Z-m-tri(AB)","nm":428,"abs":0.02},{"series":"Z,Z,Z-m-tri(AB)","nm":435,"abs":0},{"series":"Z,Z,Z-m-tri(AB)","nm":500,"abs":0}
]
},
"concat": [
{
"width": 309, "height": 122,
"title": {"text": "GAS", "dx": -13},
"data": {"name": "p1"},
"layer": [
{"mark": {"type": "line", "interpolate": "monotone", "strokeWidth": 2, "clip": true},
"encoding": {
"x": {"field": "nm", "type": "quantitative", "scale": {"domain": [100, 500], "nice": false, "zero": false}, "axis": {"orient": "bottom", "values": [100,150,200,250,300,350,400,450,500], "title": "Wavelength [nm]"}},
"y": {"field": "abs", "type": "quantitative", "scale": {"domain": [0, 3], "nice": false}, "axis": {"orient": "left", "values": [0,0.5,1,1.5,2,2.5,3], "format": "~g", "title": "Absorbance"}},
"color": {"field": "series", "type": "nominal", "scale": {"domain": ["E-AB","Z-AB"], "range": ["#ff0000","#0000ff"]}, "legend": {"title": null, "legendX": 259.5, "legendY": 12}}
}},
{"mark": {"type": "point", "opacity": 0},
"encoding": {
"x": {"field": "nm", "type": "quantitative", "scale": {"domain": [100, 500], "nice": false, "zero": false}, "axis": {"orient": "top", "values": [100,150,200,250,300,350,400,450,500], "labels": false, "title": "AB", "titleX": 20, "titleY": 28, "titleAlign": "left", "titleBaseline": "alphabetic", "titleFontSize": 22}},
"y": {"field": "abs", "type": "quantitative", "scale": {"domain": [0, 3], "nice": false}, "axis": {"orient": "right", "values": [0,0.5,1,1.5,2,2.5,3], "labels": false, "title": null}}
}}
],
"resolve": {"axis": {"x": "independent", "y": "independent"}}
},
{
"width": 326, "height": 122,
"title": {"text": "EtOH"},
"data": {"name": "p2"},
"layer": [
{"mark": {"type": "line", "interpolate": "monotone", "strokeWidth": 2, "clip": true},
"encoding": {
"x": {"field": "nm", "type": "quantitative", "scale": {"domain": [100, 500], "nice": false, "zero": false}, "axis": {"orient": "bottom", "values": [100,150,200,250,300,350,400,450,500], "title": "Wavelength [nm]"}},
"y": {"field": "abs", "type": "quantitative", "scale": {"domain": [0, 3], "nice": false}, "axis": {"orient": "left", "values": [0,0.5,1,1.5,2,2.5,3], "format": "~g", "title": null}},
"color": {"field": "series", "type": "nominal", "scale": {"domain": ["E-AB","Z-AB"], "range": ["#ff0000","#0000ff"]}, "legend": {"title": null, "legendX": 277, "legendY": 12}}
}},
{"mark": {"type": "point", "opacity": 0},
"encoding": {
"x": {"field": "nm", "type": "quantitative", "scale": {"domain": [100, 500], "nice": false, "zero": false}, "axis": {"orient": "top", "values": [100,150,200,250,300,350,400,450,500], "labels": false, "title": null}},
"y": {"field": "abs", "type": "quantitative", "scale": {"domain": [0, 3], "nice": false}, "axis": {"orient": "right", "values": [0,0.5,1,1.5,2,2.5,3], "labels": false, "title": null}}
}}
],
"resolve": {"axis": {"x": "independent", "y": "independent"}}
},
{
"width": 309, "height": 122,
"data": {"name": "p3"},
"layer": [
{"mark": {"type": "line", "interpolate": "monotone", "strokeWidth": 2, "clip": true},
"encoding": {
"x": {"field": "nm", "type": "quantitative", "scale": {"domain": [100, 500], "nice": false, "zero": false}, "axis": {"orient": "bottom", "values": [100,150,200,250,300,350,400,450,500], "title": "Wavelength [nm]"}},
"y": {"field": "abs", "type": "quantitative", "scale": {"domain": [0, 3], "nice": false}, "axis": {"orient": "left", "values": [0,0.5,1,1.5,2,2.5,3], "format": "~g", "title": "Absorbance"}},
"color": {"field": "series", "type": "nominal", "scale": {"domain": ["E,E-m-AB","E,Z-m-AB","Z,Z-m-AB"], "range": ["#ff0000","#22eeee","#0000ff"]}, "legend": {"title": null, "legendX": 259.5, "legendY": 13}}
}},
{"mark": {"type": "point", "opacity": 0},
"encoding": {
"x": {"field": "nm", "type": "quantitative", "scale": {"domain": [100, 500], "nice": false, "zero": false}, "axis": {"orient": "top", "values": [100,150,200,250,300,350,400,450,500], "labels": false, "title": "bis(AB)", "titleX": 12, "titleY": 28, "titleAlign": "left", "titleBaseline": "alphabetic", "titleFontSize": 22}},
"y": {"field": "abs", "type": "quantitative", "scale": {"domain": [0, 3], "nice": false}, "axis": {"orient": "right", "values": [0,0.5,1,1.5,2,2.5,3], "labels": false, "title": null}}
}}
],
"resolve": {"axis": {"x": "independent", "y": "independent"}}
},
{
"width": 326, "height": 122,
"data": {"name": "p4"},
"layer": [
{"mark": {"type": "line", "interpolate": "monotone", "strokeWidth": 2, "clip": true},
"encoding": {
"x": {"field": "nm", "type": "quantitative", "scale": {"domain": [100, 500], "nice": false, "zero": false}, "axis": {"orient": "bottom", "values": [100,150,200,250,300,350,400,450,500], "title": "Wavelength [nm]"}},
"y": {"field": "abs", "type": "quantitative", "scale": {"domain": [0, 3], "nice": false}, "axis": {"orient": "left", "values": [0,0.5,1,1.5,2,2.5,3], "format": "~g", "title": null}},
"color": {"field": "series", "type": "nominal", "scale": {"domain": ["E,E-m-AB","E,Z-m-AB","Z,Z-m-AB"], "range": ["#ff0000","#22eeee","#0000ff"]}, "legend": {"title": null, "legendX": 277, "legendY": 13}}
}},
{"mark": {"type": "point", "opacity": 0},
"encoding": {
"x": {"field": "nm", "type": "quantitative", "scale": {"domain": [100, 500], "nice": false, "zero": false}, "axis": {"orient": "top", "values": [100,150,200,250,300,350,400,450,500], "labels": false, "title": null}},
"y": {"field": "abs", "type": "quantitative", "scale": {"domain": [0, 3], "nice": false}, "axis": {"orient": "right", "values": [0,0.5,1,1.5,2,2.5,3], "labels": false, "title": null}}
}}
],
"resolve": {"axis": {"x": "independent", "y": "independent"}}
},
{
"width": 309, "height": 122,
"data": {"name": "p5"},
"layer": [
{"mark": {"type": "line", "interpolate": "monotone", "strokeWidth": 2, "clip": true},
"encoding": {
"x": {"field": "nm", "type": "quantitative", "scale": {"domain": [100, 500], "nice": false, "zero": false}, "axis": {"orient": "bottom", "values": [100,150,200,250,300,350,400,450,500], "title": "Wavelength [nm]"}},
"y": {"field": "abs", "type": "quantitative", "scale": {"domain": [0, 3], "nice": false}, "axis": {"orient": "left", "values": [0,0.5,1,1.5,2,2.5,3], "format": "~g", "title": "Absorbance"}},
"color": {"field": "series", "type": "nominal", "scale": {"domain": ["E,E,E-m-tri(AB)","E,E,Z-m-bis(AB)","E,Z,Z-m-tri(AB)","Z,Z,Z-m-tri(AB)"], "range": ["#ff0000","#22eeee","#000000","#0000ff"]}, "legend": {"title": null, "legendX": 259.5, "legendY": 14, "labelFontSize": 12, "rowPadding": 2.3}}
}},
{"mark": {"type": "point", "opacity": 0},
"encoding": {
"x": {"field": "nm", "type": "quantitative", "scale": {"domain": [100, 500], "nice": false, "zero": false}, "axis": {"orient": "top", "values": [100,150,200,250,300,350,400,450,500], "labels": false, "title": "tri(AB)", "titleX": 12, "titleY": 28, "titleAlign": "left", "titleBaseline": "alphabetic", "titleFontSize": 22}},
"y": {"field": "abs", "type": "quantitative", "scale": {"domain": [0, 3], "nice": false}, "axis": {"orient": "right", "values": [0,0.5,1,1.5,2,2.5,3], "labels": false, "title": null}}
}}
],
"resolve": {"axis": {"x": "independent", "y": "independent"}}
},
{
"width": 326, "height": 122,
"data": {"name": "p6"},
"layer": [
{"mark": {"type": "line", "interpolate": "monotone", "strokeWidth": 2, "clip": true},
"encoding": {
"x": {"field": "nm", "type": "quantitative", "scale": {"domain": [100, 500], "nice": false, "zero": false}, "axis": {"orient": "bottom", "values": [100,150,200,250,300,350,400,450,500], "title": "Wavelength [nm]"}},
"y": {"field": "abs", "type": "quantitative", "scale": {"domain": [0, 3], "nice": false}, "axis": {"orient": "left", "values": [0,0.5,1,1.5,2,2.5,3], "format": "~g", "title": null}},
"color": {"field": "series", "type": "nominal", "scale": {"domain": ["E,E,E-m-tri(AB)","E,E,Z-m-bis(AB)","E,Z,Z-m-tri(AB)","Z,Z,Z-m-tri(AB)"], "range": ["#ff0000","#22eeee","#000000","#0000ff"]}, "legend": {"title": null, "legendX": 277, "legendY": 14, "labelFontSize": 12, "rowPadding": 2.3}}
}},
{"mark": {"type": "point", "opacity": 0},
"encoding": {
"x": {"field": "nm", "type": "quantitative", "scale": {"domain": [100, 500], "nice": false, "zero": false}, "axis": {"orient": "top", "values": [100,150,200,250,300,350,400,450,500], "labels": false, "title": null}},
"y": {"field": "abs", "type": "quantitative", "scale": {"domain": [0, 3], "nice": false}, "axis": {"orient": "right", "values": [0,0.5,1,1.5,2,2.5,3], "labels": false, "title": null}}
}}
],
"resolve": {"axis": {"x": "independent", "y": "independent"}}
}
],
"config": {
"view": {"stroke": "black", "strokeWidth": 1.2},
"font": "Liberation Sans",
"axis": {"labelFont": "Liberation Sans", "labelFontSize": 15, "labelColor": "black", "titleFont": "Liberation Sans", "titleFontSize": 16, "titleFontWeight": "normal", "titleColor": "black", "tickColor": "black", "tickSize": -5, "tickWidth": 1, "labelPadding": 15, "titlePadding": 6, "domain": false, "grid": false, "labelFlush": false, "labelOverlap": false},
"axisBottom": {"labelPadding": 16, "titlePadding": 6},
"axisLeft": {"titlePadding": 28},
"legend": {"orient": "none", "symbolType": "M-4,0H4", "symbolStrokeWidth": 2, "symbolSize": 138, "labelFont": "Liberation Serif", "labelFontSize": 14, "labelColor": "black", "rowPadding": 1.5, "padding": 0, "labelAlign": "right", "labelOffset": -39.5, "labelLimit": 300},
"title": {"font": "Liberation Sans", "fontSize": 23, "fontWeight": "normal", "color": "black", "anchor": "middle", "offset": 3, "baseline": "alphabetic"}
}
}
